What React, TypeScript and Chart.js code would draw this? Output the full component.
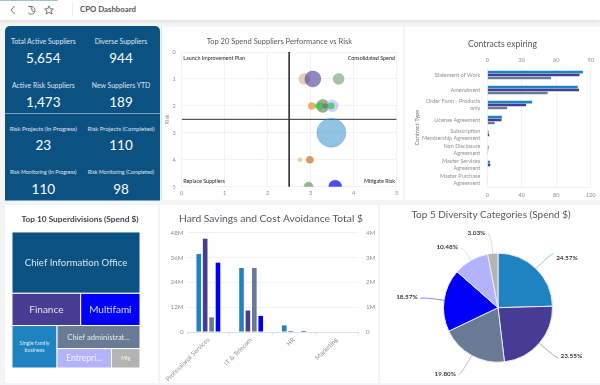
import React, { useEffect, useRef } from "react";
import { Chart, registerables } from "chart.js";

Chart.register(...registerables);
Chart.defaults.font.family = "Lato, 'Noto Sans', sans-serif";

/* ---------- data ---------- */
const kpiLabels = [
  "Total Active Suppliers", "Diverse Suppliers",
  "Active Risk Suppliers", "New Suppliers YTD",
  "Risk Projects (In Progress)", "Risk Projects (Completed)",
  "Risk Monitoring (In Progress)", "Risk Monitoring (Completed)",
];
const kpiValues = ["5,654", "944", "1,473", "189", "23", "110", "110", "98"];

const bubbleX = [2.85, 3.05, 3.65, 3.02, 3.12, 3.28, 3.22, 3.5, 3.48, 3.34, 3.48, 2.75, 2.98, 2.95, 3.57];
const bubbleY = [1, 1, 1, 2, 2, 2, 2, 2, 2, 2, 3, 4, 4, 5, 5];
const bubbleR = [5.5, 8, 5.5, 3.5, 2, 6.5, 3.5, 6, 3, 2.5, 14.5, 2, 3.5, 4.5, 6.5];
const riskTicksMax = 5;
const quadrantCut = 2.5;
const quadrantNames = ["Launch Improvement Plan", "Consolidated Spend", "Replace Suppliers", "Mitigate Risk"];

const contractTypes = [
  "Statement of Work", "Amendment", ["Order Form - Products", "only"], "License Agreement",
  ["Subscription", "Membership Agreement"], ["Non Disclosure", "Agreement"],
  ["Master Services", "Agreement"], ["Master Purchase", "Agreement"],
];
const contractsA = [111, 105, 52, 17, 1.5, 1.5, 3, 0.5];
const contractsB = [107, 106.5, 45, 16.5, 2.2, 1, 3.5, 0.5];
const contractsC = [74, 70, 23, 8.5, 0.5, 0.3, 0.5, 0.5];

const treemapLabels = [
  "Chief Information Office", "Finance", "Multifami", "Single family\nbusiness",
  "Chief administrat...", "Entrepri...", "Mfg",
];
const treemapValues = [78, 22, 19, 19, 19, 10.5, 5.5];

const savingsCategories = ["Professional Services", "IT & Telecom", "HR", "Marketing"];
const savingsA = [37.8, 31, 3.2, 0];
const savingsB = [45.2, 10.4, 0.5, 0];
const savingsC = [7.1, 31, 0, 0];
const savingsD = [33.6, 7.8, 0.5, 0];

const diversityNames = ["Category 1", "Category 2", "Category 3", "Category 4", "Category 5", "Category 6"];
const diversityValues = [24.57, 23.55, 19.8, 18.57, 10.48, 3.03];

/* ---------- styles ---------- */
const BLUE = "#1f83c2";
const PURPLE = "#463c94";
const SLATE = "#687a94";
const BRIGHT = "#0000fa";
const LAVENDER = "#b3b2fd";
const SILVER = "#b4b4b4";
const NAVY = "#0b5283";
const tickGray = "#8f8f8f";
const titleGray = "#555a60";
const gridGray = "#f0f3f6";

const bubbleColors = [
  "rgba(225,160,135,.55)", "rgba(70,60,148,.6)", "rgba(120,165,120,.65)", "rgba(240,150,60,.75)",
  "rgba(120,210,90,.8)", "rgba(120,135,110,.7)", "rgba(60,200,70,.8)", "rgba(179,178,253,.6)",
  "rgba(60,205,90,.85)", "rgba(120,120,130,.85)", "rgba(40,135,200,.5)", "rgba(245,190,140,.8)",
  "rgba(215,125,55,.8)", "rgba(105,160,110,.75)", "rgba(40,30,235,.8)",
];
const treemapColors = [NAVY, PURPLE, BRIGHT, BLUE, SLATE, LAVENDER, SILVER];
const treemapFontSizes = [9.6, 10, 10, 5.4, 7.6, 8.6, 5];
const pieColors = [BLUE, PURPLE, SLATE, BRIGHT, LAVENDER, SILVER];

const fixW = (w: number) => (s: any) => { s.width = w; };
const fixH = (h: number) => (s: any) => { s.height = h; };
/* an empty side axis: it reserves room without moving the centred title */
const spacerAxis = (position: string, width: number) => ({
  axis: "y", type: "linear", position, min: 0, max: 1,
  ticks: { display: false },
  grid: { display: false, drawTicks: false },
  border: { display: false },
  afterFit: fixW(width),
});

/* ---------- plugins ---------- */
const quadrantPlugin = {
  id: "quadrants",
  afterDatasetsDraw(chart: any) {
    const { ctx, chartArea: a } = chart;
    ctx.save();
    ctx.font = "500 5.4px Lato";
    ctx.fillStyle = "#333";
    ctx.textBaseline = "middle";
    ctx.textAlign = "left";
    ctx.fillText(quadrantNames[0], a.left + 1.6, a.top + 6);
    ctx.fillText(quadrantNames[2], a.left + 1.6, a.bottom - 5.7);
    ctx.textAlign = "right";
    ctx.fillText(quadrantNames[1], a.right - 1.7, a.top + 6);
    ctx.fillText(quadrantNames[3], a.right - 1.7, a.bottom - 5.7);
    ctx.restore();
  },
};

function treemapCells(v: number[]) {
  const total = v.reduce((s, n) => s + n, 0);
  const r1 = v[0] / total;
  const r2 = (v[1] + v[2]) / total;
  const rest = v[3] + v[4] + v[5] + v[6];
  const leftW = v[3] / rest;
  const right = v[4] + v[5] + v[6];
  const top = r1 + r2;
  const midY = top + ((1 - top) * v[4]) / right;
  const splitX = leftW + ((1 - leftW) * v[5]) / (v[5] + v[6]);
  return [
    [0, 0, 1, r1],
    [0, r1, v[1] / (v[1] + v[2]), top],
    [v[1] / (v[1] + v[2]), r1, 1, top],
    [0, top, leftW, 1],
    [leftW, top, 1, midY],
    [leftW, midY, splitX, 1],
    [splitX, midY, 1, 1],
  ];
}

const treemapPlugin = {
  id: "treemap",
  afterDatasetsDraw(chart: any) {
    const { ctx, scales } = chart;
    const cells = treemapCells(treemapValues);
    ctx.save();
    cells.forEach((c, i) => {
      const x0 = scales.x.getPixelForValue(c[0]);
      const x1 = scales.x.getPixelForValue(c[2]);
      const y0 = scales.y.getPixelForValue(c[1]);
      const y1 = scales.y.getPixelForValue(c[3]);
      ctx.fillStyle = treemapColors[i];
      ctx.fillRect(x0, y0, x1 - x0, y1 - y0);
      ctx.strokeStyle = "#fff";
      ctx.lineWidth = 1;
      ctx.strokeRect(x0, y0, x1 - x0, y1 - y0);
      const size = treemapFontSizes[i];
      ctx.font = `${size}px Lato`;
      ctx.fillStyle = "rgba(255,255,255,.85)";
      ctx.textAlign = "center";
      ctx.textBaseline = "middle";
      const lines = treemapLabels[i].split("\n");
      lines.forEach((l, k) => {
        ctx.fillText(l, (x0 + x1) / 2, (y0 + y1) / 2 + (k - (lines.length - 1) / 2) * size * 1.3);
      });
    });
    ctx.restore();
  },
};

const pieLabelPlugin = {
  id: "pieLabels",
  afterDatasetsDraw(chart: any) {
    const { ctx } = chart;
    const meta = chart.getDatasetMeta(0);
    ctx.save();
    ctx.font = "bold 6.4px Lato";
    ctx.textBaseline = "middle";
    meta.data.forEach((arc: any, i: number) => {
      const p = arc.getProps(["x", "y", "startAngle", "endAngle", "outerRadius"], true);
      const mid = (p.startAngle + p.endAngle) / 2;
      const cos = Math.cos(mid), sin = Math.sin(mid);
      const r = p.outerRadius;
      const reach = r + (i === 4 ? 15 : 21);
      const ex = p.x + cos * reach, ey = p.y + sin * reach;
      const dir = cos >= 0 ? 1 : -1;
      ctx.strokeStyle = pieColors[i] + "77";
      ctx.lineWidth = 1;
      ctx.beginPath();
      ctx.moveTo(p.x + cos * r, p.y + sin * r);
      ctx.quadraticCurveTo(ex, ey, ex + dir * 3, ey + (i === 0 ? 0 : 1));
      ctx.stroke();
      ctx.fillStyle = "#3a3a3a";
      ctx.textAlign = dir > 0 ? "left" : "right";
      ctx.fillText(diversityValues[i].toFixed(2) + "%", ex + dir * 5.5, ey + (i === 0 ? 4 : i === 1 ? -1 : 0));
    });
    ctx.restore();
  },
};

/* ---------- chart configs ---------- */
const titleOpts = (text: string, size: number, color: string, top: number, bottom: number, weight: any = "normal") => ({
  display: true,
  text,
  color,
  font: { size, weight, lineHeight: 1.2 },
  padding: { top, bottom },
});

const bubbleConfig = (): any => ({
  data: {
    datasets: [
      {
        type: "bubble",
        data: bubbleX.map((x, i) => ({ x, y: bubbleY[i], r: bubbleR[i] })),
        backgroundColor: bubbleColors,
        borderColor: bubbleColors,
        borderWidth: 0.5,
      },
      {
        type: "scatter", showLine: true, pointRadius: 0, borderColor: "#333", borderWidth: 1,
        data: [{ x: quadrantCut, y: 0 }, { x: quadrantCut, y: riskTicksMax }],
      },
      {
        type: "scatter", showLine: true, pointRadius: 0, borderColor: "#333", borderWidth: 1,
        data: [{ x: 0, y: quadrantCut }, { x: riskTicksMax, y: quadrantCut }],
      },
    ],
  },
  plugins: [quadrantPlugin],
  options: {
    responsive: false,
    animation: false,
    layout: { padding: { right: 6.3 }, autoPadding: false },
    plugins: {
      legend: { display: false },
      tooltip: { enabled: false },
      title: titleOpts("Top 20 Spend Suppliers Performance vs Risk", 7.5, titleGray, 9.8, 6.2),
    },
    scales: {
      x: {
        type: "linear", min: 0, max: 5,
        ticks: { stepSize: 1, color: tickGray, font: { size: 5.6 }, padding: 3 },
        grid: { color: gridGray, drawTicks: false },
        border: { color: gridGray },
        afterFit: fixH(13.3),
      },
      y: {
        type: "linear", min: 0, max: 5, reverse: true,
        ticks: { stepSize: 1, color: tickGray, font: { size: 5.6 }, padding: 6 },
        grid: { color: gridGray, drawTicks: false },
        border: { color: gridGray },
        title: { display: true, text: "Risk", color: tickGray, font: { size: 5.6 }, padding: { top: 2, bottom: 0 } },
        afterFit: fixW(19.7),
      },
    },
  },
});

const contractsConfig = (): any => ({
  type: "bar",
  data: {
    labels: contractTypes,
    datasets: [
      { data: contractsA, backgroundColor: BLUE },
      { data: contractsB, backgroundColor: PURPLE },
      { data: contractsC, backgroundColor: SLATE },
    ],
  },
  options: {
    indexAxis: "y",
    responsive: false,
    animation: false,
    datasets: { bar: { categoryPercentage: 0.58, barPercentage: 0.88 } },
    plugins: {
      legend: { display: false },
      tooltip: { enabled: false },
      title: titleOpts("Contracts expiring", 8.6, titleGray, 11.8, 5.9),
    },
    scales: {
      x: {
        type: "linear", position: "bottom", min: 0, max: 120,
        ticks: { stepSize: 40, color: tickGray, font: { size: 5.6 }, padding: 4 },
        grid: { color: gridGray, drawTicks: false },
        border: { color: gridGray },
        afterFit: fixH(12.5),
      },
      x2: {
        axis: "x", type: "linear", position: "top", min: 0, max: 90,
        ticks: { stepSize: 30, color: tickGray, font: { size: 5.6 }, padding: 4 },
        grid: { display: false, drawTicks: false },
        border: { display: false },
        afterFit: fixH(12.5),
      },
      y: {
        ticks: { color: tickGray, font: { size: 5.5, lineHeight: 1.2 }, padding: 7, autoSkip: false },
        grid: { display: false, drawTicks: false },
        border: { color: gridGray },
        title: { display: true, text: "Contract Type", color: "#777", font: { size: 5.8 }, padding: { top: 9, bottom: 0 } },
        afterFit: fixW(82.3),
      },
      yRight: spacerAxis("right", 9.3),
    },
  },
});

const treemapConfig = (): any => ({
  type: "scatter",
  data: { datasets: [{ data: [] }] },
  plugins: [treemapPlugin],
  options: {
    responsive: false,
    animation: false,
    layout: { padding: { bottom: 15 } },
    plugins: {
      legend: { display: false },
      tooltip: { enabled: false },
      title: titleOpts("Top 10 Superdivisions (Spend $)", 8.3, "#3f4449", 9.6, 7.4, "bold"),
    },
    scales: {
      x: { type: "linear", min: 0, max: 1, display: false },
      y: { type: "linear", min: 0, max: 1, reverse: true, display: false },
      yLeft: spacerAxis("left", 4),
      yRight: spacerAxis("right", 12),
    },
  },
});

const savingsConfig = (): any => ({
  type: "bar",
  data: {
    labels: savingsCategories,
    datasets: [
      { data: savingsA, backgroundColor: BLUE },
      { data: savingsB, backgroundColor: PURPLE },
      { data: savingsC, backgroundColor: SLATE },
      { data: savingsD, backgroundColor: BRIGHT },
    ],
  },
  options: {
    responsive: false,
    animation: false,
    datasets: { bar: { categoryPercentage: 0.6, barPercentage: 0.72 } },
    plugins: {
      legend: { display: false },
      tooltip: { enabled: false },
      title: titleOpts("Hard Savings and Cost Avoidance Total $", 10.3, titleGray, 7.8, 7.8),
    },
    scales: {
      x: {
        ticks: { color: tickGray, font: { size: 6.4 }, minRotation: 45, maxRotation: 45, padding: 1, autoSkip: false },
        grid: { display: true, color: "transparent", tickColor: "#d6e4f0", tickLength: 3 },
        border: { color: "#d6e4f0" },
        afterFit: fixH(51),
      },
      y: {
        min: 0, max: 48,
        ticks: { stepSize: 12, color: tickGray, font: { size: 6.2 }, padding: 3.5, callback: (v: number) => (v ? v + "M" : "0") },
        grid: { color: gridGray, drawTicks: false },
        border: { display: false },
        afterFit: fixW(25),
      },
      y2: {
        axis: "y", type: "linear", position: "right", min: 0, max: 4,
        ticks: { stepSize: 1, color: tickGray, font: { size: 6.2 }, padding: 8, callback: (v: number) => (v ? v + "M" : "0") },
        grid: { display: false, drawTicks: false },
        border: { display: false },
        afterFit: fixW(22),
      },
    },
  },
});

const pieConfig = (): any => ({
  type: "pie",
  data: {
    labels: diversityNames,
    datasets: [{ data: diversityValues, backgroundColor: pieColors, borderColor: "#e9ecf4", borderWidth: 1, radius: 54.5 }],
  },
  plugins: [pieLabelPlugin],
  options: {
    responsive: false,
    animation: false,
    plugins: {
      legend: { display: false },
      tooltip: { enabled: false },
      title: titleOpts("Top 5 Diversity Categories (Spend $)", 10, titleGray, 3.8, 11.6),
    },
    scales: { yLeft: spacerAxis("left", 14) },
  },
});

/* ---------- components ---------- */
function ChartCard({ config, left, top, width, height }: any) {
  const ref = useRef<HTMLCanvasElement>(null);
  useEffect(() => {
    const chart = new Chart(ref.current!, config());
    return () => chart.destroy();
  }, []);
  return (
    <canvas
      ref={ref}
      width={width}
      height={height}
      style={{ position: "absolute", left, top, width, height, display: "block" }}
    />
  );
}

const abs = (l: number, t: number, w: number, h: number, bg: string, extra: any = {}) => ({
  position: "absolute" as const, left: l, top: t, width: w, height: h, background: bg, ...extra,
});

const kpiColumns = [43.3, 121];
const kpiRows = [
  { label: 40.7, value: 58, size: 6.9 },
  { label: 85, value: 101.7, size: 6.9 },
  { label: 128.3, value: 145, size: 6 },
  { label: 172.3, value: 189, size: 5.3 },
];

function KpiPanel() {
  const items: any[] = [];
  kpiLabels.forEach((label, i) => {
    const row = kpiRows[Math.floor(i / 2)];
    const x = kpiColumns[i % 2];
    const center: any = { position: "absolute", left: x, transform: "translate(-50%,-50%)", whiteSpace: "nowrap", color: "#fff" };
    items.push(<div key={"l" + i} style={{ ...center, top: row.label, fontSize: row.size, opacity: 0.85 }}>{label}</div>);
    items.push(<div key={"v" + i} style={{ ...center, top: row.value, fontSize: 13.5 }}>{kpiValues[i]}</div>);
  });
  return <>{items}</>;
}

export default function App() {
  return (
    <div style={{ position: "relative", width: 600, height: 385, overflow: "hidden", background: "#f3f4f5", fontFamily: "Lato, sans-serif", filter: "blur(0.35px)" }}>
      <style>{"html,body{margin:0;padding:0;background:#f3f4f5}"}</style>

      {/* header */}
      <div style={abs(0, 0, 600, 20, "#fff", { boxShadow: "0 2px 3px rgba(0,0,0,.08)" })} />
      <div style={abs(0, 0, 58, 1, "#9fc4cf")} />
      <svg style={{ position: "absolute", left: 9, top: 4, width: 48, height: 12 }} viewBox="0 0 48 12" fill="none" stroke="#666" strokeWidth="0.9">
        <path d="M5.5 2 L2 6 L5.5 10" />
        <path d="M22 2.4 A3.9 3.9 0 1 1 19.2 8.8 M19 2.4 L22 2.4 L22.4 5 M23 4.5 L23 6.8 L24.8 7.6" />
        <path d="M40 1.8 L41.3 4.7 L44.4 5 L42 7 L42.8 10 L40 8.4 L37.2 10 L38 7 L35.6 5 L38.7 4.7 Z" />
      </svg>
      <div style={abs(72, 2, 1, 14, "#ececec")} />
      <div style={{ position: "absolute", left: 80, top: 4, fontSize: 7.8, lineHeight: "10px", color: "#555", fontWeight: 700, whiteSpace: "nowrap" }}>CPO Dashboard</div>

      {/* cards */}
      <div style={abs(161, 27, 242, 173, "#fff", { borderLeft: "1px solid #cfe6f5", boxSizing: "border-box" })} />
      <div style={abs(405, 27, 195, 173, "#fff")} />
      <div style={abs(5, 205, 153, 178, "#fff")} />
      <div style={abs(160, 205, 218, 178, "#fff")} />
      <div style={abs(380, 205, 220, 178, "#fff")} />
      <div style={abs(5, 199, 155, 2, "#6ea6cc")} />

      {/* KPI panel */}
      <div style={abs(4.5, 25.5, 155.5, 174.5, NAVY, { borderRadius: "5px 5px 0 0" })} />
      <div style={abs(4.5, 113, 155.5, 1, "rgba(255,255,255,.45)")} />
      <KpiPanel />

      <ChartCard config={bubbleConfig} left={162} top={27} width={241} height={173} />
      <ChartCard config={contractsConfig} left={405} top={27} width={195} height={173} />
      <ChartCard config={treemapConfig} left={8} top={205} width={144} height={178} />
      <ChartCard config={savingsConfig} left={162} top={205} width={218} height={178} />
      <ChartCard config={pieConfig} left={382} top={205} width={218} height={178} />
    </div>
  );
}
